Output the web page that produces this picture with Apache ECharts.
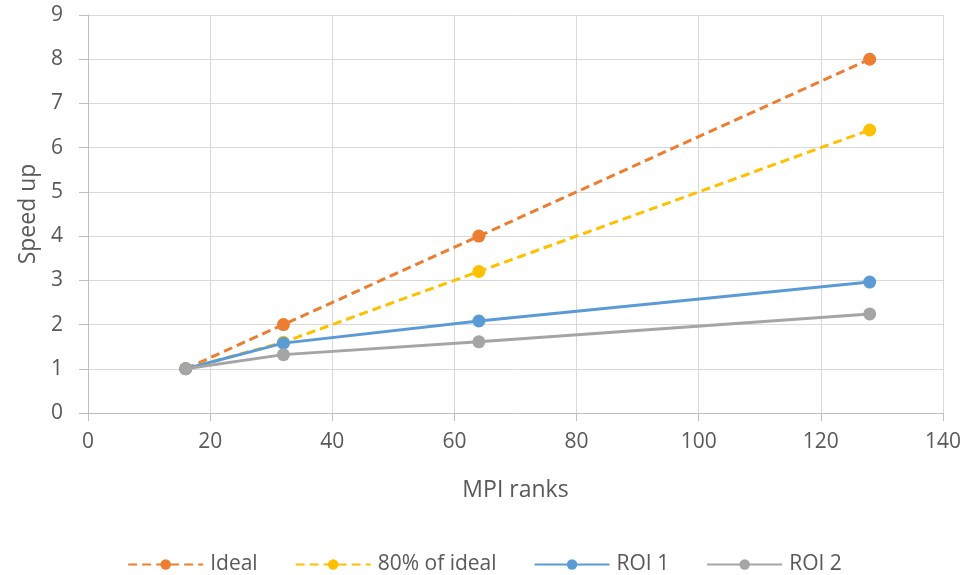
<!DOCTYPE html>
<html>
<head>
<meta charset="utf-8">
<script src="https://cdn.jsdelivr.net/npm/echarts@6/dist/echarts.min.js"></script>
<style>
  html, body { margin: 0; padding: 0; background: #fff; }
  #chart { width: 969px; height: 575px; }
</style>
</head>
<body>
<div id="chart"></div>
<script>
// MPI rank counts and measured / reference speed-ups
const ranks = [16, 32, 64, 128];
const ideal = [1, 2, 4, 8];
const eightyPct = [1, 1.6, 3.2, 6.4];
const roi1 = [1, 1.58, 2.08, 2.96];
const roi2 = [1, 1.32, 1.61, 2.24];

const seriesNames = ['Ideal', '80% of ideal', 'ROI 1', 'ROI 2'];
const seriesColors = ['#ED7D31', '#FFC000', '#5B9BD5', '#A5A5A5'];
const seriesDashed = [true, true, false, false];
const seriesValues = [ideal, eightyPct, roi1, roi2];

const FONT = '"Open Sans", "Noto Sans", sans-serif';
const TEXT = '#595959';
const LABEL_SIZE = 21;
const TITLE_SIZE = 23;

const chart = echarts.init(document.getElementById('chart'), null, { renderer: 'canvas' });

const series = seriesNames.map((name, i) => ({
  name,
  type: 'line',
  data: ranks.map((r, j) => [r, seriesValues[i][j]]),
  symbol: 'circle',
  symbolSize: 13,
  color: seriesColors[i],
  lineStyle: {
    width: 3,
    color: seriesColors[i],
    type: seriesDashed[i] ? [9, 5] : 'solid'
  },
  itemStyle: { color: seriesColors[i] }
}));

chart.setOption({
  animation: false,
  backgroundColor: '#ffffff',
  textStyle: { fontFamily: FONT },
  grid: { left: 88, right: 26, top: 15, bottom: 162, containLabel: false },
  xAxis: {
    type: 'value',
    min: 0, max: 140, interval: 20,
    name: 'MPI ranks',
    nameLocation: 'middle',
    nameGap: 66,
    nameTextStyle: { color: TEXT, fontSize: TITLE_SIZE, fontFamily: FONT },
    axisLine: { show: true, lineStyle: { color: '#BFBFBF', width: 1 } },
    axisTick: { show: true, length: 8, lineStyle: { color: '#BFBFBF' } },
    axisLabel: { color: TEXT, fontSize: LABEL_SIZE, fontFamily: FONT, margin: 19 },
    splitLine: { show: true, lineStyle: { color: '#D9D9D9', width: 1 } }
  },
  yAxis: {
    type: 'value',
    min: 0, max: 9, interval: 1,
    name: 'Speed up',
    nameLocation: 'middle',
    nameGap: 48,
    nameRotate: 90,
    nameTextStyle: { color: TEXT, fontSize: TITLE_SIZE, fontFamily: FONT },
    axisLine: { show: true, lineStyle: { color: '#BFBFBF', width: 1 } },
    axisTick: { show: true, length: 9, inside: false, lineStyle: { color: '#BFBFBF' } },
    axisLabel: { color: TEXT, fontSize: LABEL_SIZE, fontFamily: FONT, margin: 25 },
    splitLine: { show: true, lineStyle: { color: '#D9D9D9', width: 1 } }
  },
  legend: {
    data: seriesNames,
    top: 549,
    left: 'center',
    itemWidth: 75,
    itemHeight: 13,
    itemGap: 37,
    textStyle: { color: TEXT, fontSize: LABEL_SIZE, fontFamily: FONT, padding: [0, 0, 0, 2] }
  },
  series
});
</script>
</body>
</html>
